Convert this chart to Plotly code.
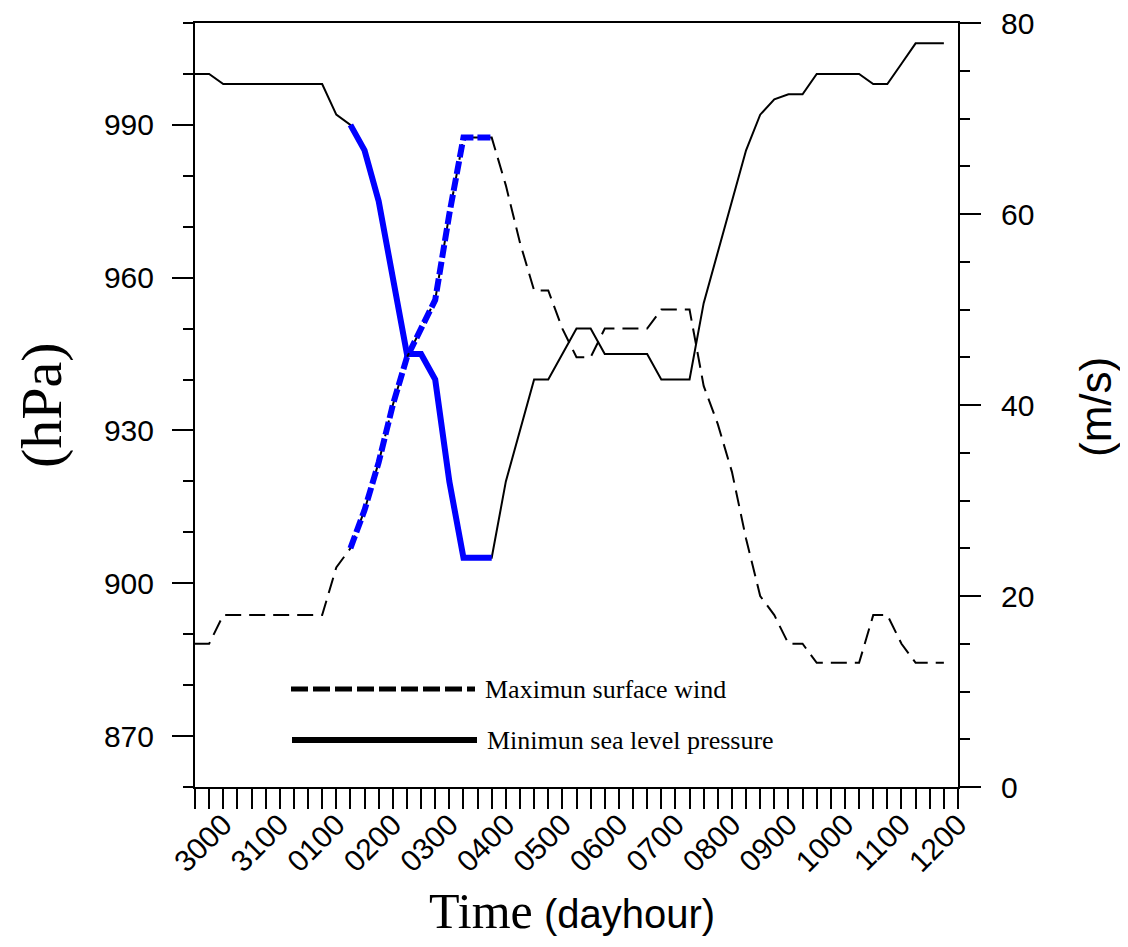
import plotly.graph_objects as go

# ---- data (6-hourly, dayhour) ----
times = ["2912", "2918", "3000", "3006", "3012", "3018", "3100", "3106", "3112", "3118",
         "0100", "0106", "0112", "0118", "0200", "0206", "0212", "0218",
         "0300", "0306", "0312", "0318", "0400", "0406", "0412", "0418",
         "0500", "0506", "0512", "0518", "0600", "0606", "0612", "0618",
         "0700", "0706", "0712", "0718", "0800", "0806", "0812", "0818",
         "0900", "0906", "0912", "0918", "1000", "1006", "1012", "1018",
         "1100", "1106", "1112", "1118", "1200"]

pressure = [1000, 1000, 998, 998, 998, 998, 998, 998, 998, 998,
            992, 990, 985, 975, 960, 945, 945, 940, 920, 905,
            905, 905, 920, 930, 940, 940, 945, 950, 950, 945,
            945, 945, 945, 940, 940, 940, 955, 965, 975, 985,
            992, 995, 996, 996, 1000, 1000, 1000, 1000, 998, 998,
            1002, 1006, 1006, 1006]

wind = [15, 15, 18, 18, 18, 18, 18, 18, 18, 18,
        23, 25, 29, 34, 40, 45, 48, 51, 60, 68,
        68, 68, 63, 57, 52, 52, 48, 45, 45, 48,
        48, 48, 48, 50, 50, 50, 42, 38, 33, 26,
        20, 18, 15, 15, 13, 13, 13, 13, 18, 18,
        15, 13, 13, 13]

tick_labels = ["3000", "3100", "0100", "0200", "0300", "0400", "0500",
               "0600", "0700", "0800", "0900", "1000", "1100", "1200"]

highlight_start = "0106"
highlight_end = "0318"

legend_labels = ["Maximun surface wind", "Minimun sea level pressure"]

# ---- derived ----
data_times = times[:len(pressure)]
i0 = data_times.index(highlight_start)
i1 = data_times.index(highlight_end) + 1
ticktext = [t if t in tick_labels else "" for t in times]

fig = go.Figure()

fig.add_trace(go.Scatter(x=data_times, y=wind, yaxis="y2", mode="lines",
                         line=dict(color="black", width=2, dash="16px,8px"),
                         showlegend=False))
fig.add_trace(go.Scatter(x=data_times, y=pressure, mode="lines",
                         line=dict(color="black", width=2),
                         showlegend=False))
fig.add_trace(go.Scatter(x=data_times[i0:i1], y=wind[i0:i1], yaxis="y2", mode="lines",
                         line=dict(color="#0000ff", width=6, dash="13px,4px"),
                         showlegend=False))
fig.add_trace(go.Scatter(x=data_times[i0:i1], y=pressure[i0:i1], mode="lines",
                         line=dict(color="#0000ff", width=6),
                         showlegend=False))

# page offset of the figure inside the browser page (body margin)
OX, OY = 8, 8
W, H = 1112, 931
L = 195 - OX
T = 23 - OY
R = W - (958 - OX)
B = H - (787 - OY)
pw, ph = W - L - R, H - T - B


def px(xp):
    return (xp - OX - L) / pw


def py(yp):
    return (H - B - (yp - OY)) / ph


sans = "Liberation Sans, Arial, sans-serif"
serif = "Liberation Serif, Times New Roman, serif"
tickfont = dict(family=sans, size=30, color="black")

fig.update_layout(
    width=W, height=H,
    margin=dict(l=L, r=R, t=T, b=B, pad=0, autoexpand=False),
    paper_bgcolor="white", plot_bgcolor="white",
    showlegend=False,
    xaxis=dict(
        type="category", categoryorder="array", categoryarray=times,
        range=[0, len(times) - 1],
        tickmode="array", tickvals=times, ticktext=ticktext,
        tickangle=-45, tickfont=tickfont, ticklabelstandoff=-14,
        ticklabeloverflow="allow",
        ticks="outside", ticklen=20, tickwidth=2, tickcolor="black",
        showline=True, linecolor="black", linewidth=2, mirror=True,
        showgrid=False, zeroline=False,
    ),
    yaxis=dict(
        range=[860, 1010],
        tickmode="linear", tick0=870, dtick=30,
        ticks="outside", ticklen=21, tickwidth=2, tickcolor="black",
        minor=dict(tick0=860, dtick=10, ticks="outside", ticklen=10,
                   tickwidth=1.5, tickcolor="black", showgrid=False),
        tickfont=tickfont, ticklabelstandoff=12, ticklabeloverflow="allow",
        showline=True, linecolor="black", linewidth=2,
        showgrid=False, zeroline=False,
    ),
    yaxis2=dict(
        range=[0, 80], overlaying="y", side="right",
        tickmode="array", tickvals=[0, 20, 40, 60, 80],
        ticks="outside", ticklen=21, tickwidth=2, tickcolor="black",
        minor=dict(tick0=0, dtick=5, ticks="outside", ticklen=10,
                   tickwidth=1.5, tickcolor="black", showgrid=False),
        tickfont=tickfont, ticklabelstandoff=14, ticklabeloverflow="allow",
        showline=True, linecolor="black", linewidth=2,
        showgrid=False, zeroline=False,
    ),
)

# legend (drawn manually)
fig.add_shape(type="line", xref="paper", yref="paper",
              x0=px(291), x1=px(475), y0=py(689), y1=py(689),
              line=dict(color="black", width=5, dash="17px,5px"))
fig.add_shape(type="line", xref="paper", yref="paper",
              x0=px(292), x1=px(477), y0=py(740), y1=py(740),
              line=dict(color="black", width=6))
fig.add_annotation(xref="paper", yref="paper", x=px(483), y=py(689),
                   xanchor="left", yanchor="middle", showarrow=False,
                   text=legend_labels[0], font=dict(family=serif, size=26, color="black"))
fig.add_annotation(xref="paper", yref="paper", x=px(485), y=py(740),
                   xanchor="left", yanchor="middle", showarrow=False,
                   text=legend_labels[1], font=dict(family=serif, size=26, color="black"))

# axis titles
fig.add_annotation(xref="paper", yref="paper", x=px(41), y=py(405),
                   xanchor="center", yanchor="middle", showarrow=False, textangle=-90,
                   text="(hPa)", font=dict(family=serif, size=58, color="black"))
fig.add_annotation(xref="paper", yref="paper", x=px(1095), y=py(407),
                   xanchor="center", yanchor="middle", showarrow=False, textangle=-90,
                   text="(m/s)", font=dict(family=sans, size=44, color="black"))
fig.add_annotation(xref="paper", yref="paper", x=px(572), y=py(911),
                   xanchor="center", yanchor="middle", showarrow=False,
                   text='<span style="font-family:Liberation Serif;font-size:50px">Time</span> (dayhour)',
                   font=dict(family=sans, size=40, color="black"))

fig.write_html("out.html")
